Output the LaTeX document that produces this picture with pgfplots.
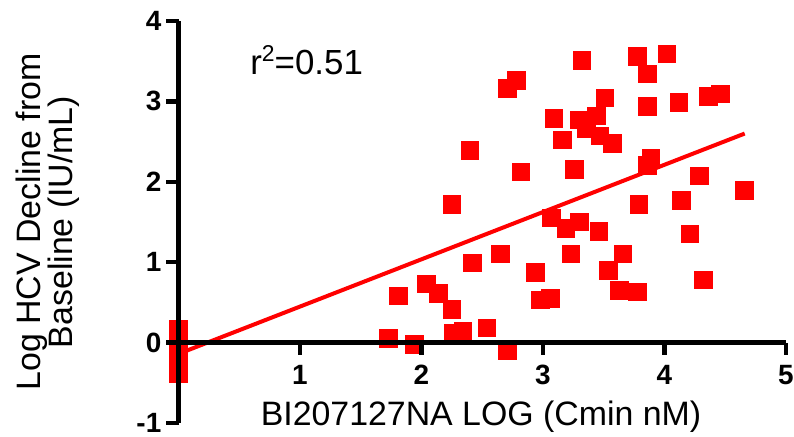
\documentclass[border=0pt]{standalone}
\usepackage{fontspec}
\setmainfont{Liberation Sans}
\usepackage{pgfplots}
\pgfplotsset{compat=1.18}
\definecolor{pr}{HTML}{FF0000}
\begin{document}
\begin{tikzpicture}
\begin{axis}[name=ax,
  set layers, axis on top, clip=false,
  scale only axis, width=607.5bp, height=402bp,
  xmin=0, xmax=5, ymin=-1, ymax=4,
  axis x line=middle, axis y line=left,
  axis line style={-, line width=4.5bp, black},
  xtick={1,2,3,4,5}, ytick={-1,0,1,2,3,4},
  tick align=outside, major tick length=12bp,
  major tick style={line width=4.5bp, black},
  /pgf/number format/assume math mode=true,
  ticklabel style={font=\fontsize{28}{28}\selectfont\bfseries, inner sep=0pt},
  xticklabel style={anchor=base, yshift=-30bp},
  yticklabel style={anchor=east, xshift=-5bp},
  every axis x label/.style={at={(axis description cs:0.498,-0.005)}, anchor=base},
  every axis y label/.style={at={(axis description cs:-0.215,0.5)}, anchor=center, rotate=90, align=center},
  label style={font=\fontsize{34}{32}\selectfont},
  xlabel={BI207127NA LOG (Cmin nM)},
  ylabel={Log HCV Decline from\\Baseline (IU/mL)},
]
\addplot[pr, line width=4bp, no markers] coordinates {(0,-0.14) (4.66,2.60)};
\addplot[only marks, mark=square*, mark size=8.8bp, pr, mark options={draw=pr, fill=pr, line width=0pt}] coordinates {
(0,0.17) (0,0.02) (0,-0.15) (0,-0.3) (0,-0.39)
(1.73,0.05) (1.81,0.58) (1.94,-0.02) (2.04,0.73) (2.14,0.61)
(2.25,0.41) (2.26,0.11) (2.34,0.14) (2.25,1.72) (2.40,2.39)
(2.42,0.99) (2.54,0.18) (2.65,1.10) (2.71,-0.10) (2.71,3.16)
(2.78,3.26) (2.82,2.12) (2.94,0.87) (2.98,0.53) (3.06,0.55)
(3.07,1.55) (3.09,2.79) (3.16,2.52) (3.19,1.42) (3.23,1.10)
(3.26,2.15) (3.30,1.50) (3.30,2.77) (3.32,3.51) (3.36,2.66)
(3.44,2.82) (3.46,1.38) (3.47,2.57) (3.51,3.04) (3.54,0.90)
(3.57,2.48) (3.63,0.65) (3.66,1.10) (3.78,0.63) (3.78,3.56)
(3.79,1.72) (3.86,3.34) (3.86,2.94) (3.86,2.20) (3.89,2.29)
(4.02,3.59) (4.12,2.99) (4.14,1.77) (4.21,1.35) (4.29,2.07)
(4.32,0.78) (4.36,3.06) (4.46,3.09) (4.66,1.89)
};
\node[anchor=base west, inner sep=0pt, font=\fontsize{35}{35}\selectfont] at (axis cs:0.59,3.33) {r\raisebox{0.75ex}{\fontsize{23}{23}\selectfont 2}=0.51};
\end{axis}
\pgfresetboundingbox
\path[use as bounding box] ([shift={(-178.5bp,-14bp)}]ax.south west) rectangle ([shift={(615.5bp,423bp)}]ax.south west);
\end{tikzpicture}
\end{document}
